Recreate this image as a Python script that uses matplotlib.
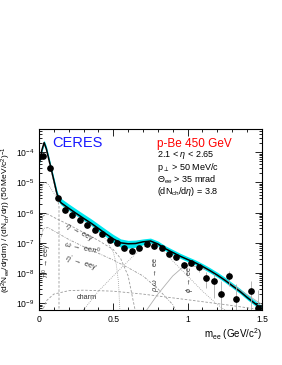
import matplotlib
matplotlib.use('Agg')
import matplotlib.pyplot as plt
import numpy as np
from matplotlib.ticker import FixedLocator, FuncFormatter, LogLocator, NullFormatter

plt.rcParams['font.family'] = ['Liberation Sans', 'DejaVu Sans']
plt.rcParams['mathtext.fontset'] = 'custom'
plt.rcParams['mathtext.rm'] = 'Liberation Sans'
plt.rcParams['mathtext.it'] = 'Liberation Sans:italic'

# Data points (bin centres, 50 MeV bins)
m_data = [0.025, 0.075, 0.125, 0.175, 0.225, 0.275, 0.325, 0.375, 0.425, 0.475,
          0.525, 0.575, 0.625, 0.675, 0.725, 0.775, 0.825, 0.875, 0.925, 0.975,
          1.025, 1.075, 1.125, 1.175, 1.225, 1.275, 1.325, 1.425, 1.475]
y_data = [7.5e-5, 3.0e-5, 3.1e-6, 1.26e-6, 8.2e-7, 5.6e-7, 3.9e-7, 2.75e-7, 2.0e-7, 1.23e-7,
          1.02e-7, 6.6e-8, 5.4e-8, 6.8e-8, 9.1e-8, 7.9e-8, 6.8e-8, 4.3e-8, 3.3e-8, 1.85e-8,
          2.2e-8, 1.6e-8, 7.1e-9, 5.5e-9, 2.0e-9, 7.8e-9, 1.35e-9, 2.6e-9, 6.9e-10]
y_err = [1e-6, 5e-7, 1e-7, 4e-8, 3e-8, 2e-8, 1.5e-8, 1.2e-8, 1e-8, 8e-9,
         8e-9, 6e-9, 6e-9, 6e-9, 7e-9, 7e-9, 7e-9, 6e-9, 6e-9, 5e-9,
         5e-9, 5e-9, 4e-9, 4e-9, 3.5e-9, 4e-9, 3e-9, 3e-9, 2e-9]

# Total cocktail (line) and systematic band
m_tot = [0.005, 0.02, 0.035, 0.05, 0.075, 0.1, 0.12, 0.135, 0.15, 0.2, 0.25, 0.3, 0.35,
         0.4, 0.45, 0.5, 0.55, 0.6, 0.65, 0.7, 0.75, 0.8, 0.85, 0.9, 0.95, 1.0,
         1.05, 1.1, 1.15, 1.2, 1.25, 1.3, 1.35, 1.4, 1.45, 1.5]
y_tot = [5e-5, 1.2e-4, 2.1e-4, 1.3e-4, 4e-5, 1.2e-5, 4.5e-6, 2.6e-6, 2.1e-6, 1.4e-6,
         9.5e-7, 6.5e-7, 4.5e-7, 3e-7, 2e-7, 1.35e-7, 1.0e-7, 9.3e-8, 9.5e-8, 1.08e-7,
         1.15e-7, 9.2e-8, 6.4e-8, 4.8e-8, 3.6e-8, 2.8e-8, 2.2e-8, 1.65e-8, 1.2e-8,
         8.5e-9, 5.8e-9, 3.8e-9, 2.5e-9, 1.55e-9, 1.0e-9, 6.5e-10]
band_lo = [0.85, 0.85, 0.85, 0.85, 0.85, 0.85, 0.85, 0.85, 0.85, 0.85,
           0.85, 0.85, 0.85, 0.82, 0.8, 0.75, 0.72, 0.72, 0.75, 0.8,
           0.85, 0.85, 0.85, 0.85, 0.85, 0.85, 0.85, 0.85, 0.85, 0.85,
           0.85, 0.85, 0.85, 0.85, 0.85, 0.85]
band_hi = [1.2, 1.2, 1.2, 1.25, 1.25, 1.25, 1.3, 1.3, 1.4, 1.4,
           1.4, 1.4, 1.4, 1.4, 1.4, 1.4, 1.35, 1.3, 1.3, 1.25,
           1.25, 1.25, 1.25, 1.25, 1.25, 1.25, 1.25, 1.25, 1.25, 1.25,
           1.25, 1.25, 1.25, 1.25, 1.25, 1.25]

# Cocktail components
m_pi0 = [0.005, 0.02, 0.035, 0.05, 0.075, 0.1, 0.12, 0.13, 0.135, 0.135]
y_pi0 = [4.5e-5, 1.1e-4, 1.9e-4, 1.2e-4, 3.6e-5, 1.05e-5, 3.8e-6, 2.2e-6, 1.6e-6, 5e-10]

m_eta = [0.005, 0.02, 0.04, 0.06, 0.1, 0.15, 0.2, 0.25, 0.3, 0.35, 0.4, 0.45, 0.5, 0.52, 0.535, 0.545]
y_eta = [2.5e-6, 7e-6, 1e-5, 9e-6, 4.5e-6, 2e-6, 1.25e-6, 8.3e-7, 5.6e-7, 3.8e-7,
         2.4e-7, 1.3e-7, 5e-8, 2e-8, 5e-9, 5e-10]

m_omd = [0.005, 0.03, 0.06, 0.1, 0.2, 0.3, 0.4, 0.5, 0.55, 0.6, 0.63, 0.65]
y_omd = [3e-7, 8e-7, 9e-7, 7e-7, 4e-7, 2.2e-7, 1.2e-7, 6e-8, 3e-8, 8e-9, 1.5e-9, 5e-10]

m_etap = [0.005, 0.03, 0.06, 0.1, 0.2, 0.3, 0.4, 0.5, 0.6, 0.7, 0.8, 0.9, 0.95]
y_etap = [1e-7, 3e-7, 3.2e-7, 2.5e-7, 1.3e-7, 7.5e-8, 4.5e-8, 2.7e-8, 1.5e-8, 8e-9, 3e-9, 9e-10, 3e-10]

m_charm = [0.02, 0.05, 0.1, 0.2, 0.3, 0.5, 0.7, 1.0, 1.25, 1.5]
y_charm = [5e-10, 1.2e-9, 2e-9, 2.6e-9, 2.7e-9, 2.5e-9, 2e-9, 1.3e-9, 9e-10, 6e-10]

m_rho = [0.3, 0.4, 0.5, 0.6, 0.68, 0.74, 0.78, 0.82, 0.9, 1.0, 1.1, 1.2, 1.3]
y_rho = [6e-10, 2.5e-9, 8e-9, 2.5e-8, 6e-8, 9.5e-8, 1.0e-7, 7e-8, 2.5e-8, 8e-9, 2.5e-9, 9e-10, 4e-10]

m_phi = [0.7, 0.8, 0.9, 0.97, 1.02, 1.08, 1.15, 1.25, 1.35, 1.5]
y_phi = [4e-10, 2e-9, 8e-9, 1.6e-8, 1.8e-8, 1.5e-8, 1.2e-8, 6e-9, 2.8e-9, 9e-10]

y_ticks = [1e-9, 1e-8, 1e-7, 1e-6, 1e-5, 1e-4]
x_ticks = [0, 0.5, 1.0, 1.5]

fig = plt.figure(figsize=(2.82, 3.65), dpi=100)
ax = fig.add_axes([0.138, 0.151, 0.791, 0.496])

grey = '#9a9a9a'
ax.plot(m_pi0, y_pi0, ls=(0, (3, 2)), color=grey, lw=0.6)
ax.plot(m_eta, y_eta, ls=(0, (1, 1.5)), color=grey, lw=0.6)
ax.plot(m_omd, y_omd, ls=(0, (3, 2)), color=grey, lw=0.6)
ax.plot(m_etap, y_etap, ls=(0, (3, 1.5, 1, 1.5)), color=grey, lw=0.6)
ax.plot(m_charm, y_charm, ls=(0, (3, 2)), color=grey, lw=0.6)
ax.plot(m_rho, y_rho, ls=(0, (1, 1.5)), color=grey, lw=0.6)
ax.plot(m_phi, y_phi, ls='-', color='#b0b0b0', lw=0.6)

tot = np.array(y_tot)
ax.fill_between(m_tot, tot * np.array(band_lo), tot * np.array(band_hi),
                color='#00e8f0', lw=0)
ax.plot(m_tot, y_tot, color='black', lw=1.1)

ax.errorbar(m_data, y_data, yerr=y_err, fmt='o', color='black', ms=3.8,
            ecolor='#aaaaaa', elinewidth=0.6, capsize=0)

ax.set_yscale('log')
ax.set_xlim(0, 1.5)
ax.set_ylim(6e-10, 6e-4)

ax.xaxis.set_major_locator(FixedLocator(x_ticks))
ax.xaxis.set_minor_locator(FixedLocator(np.arange(0, 1.51, 0.1)))
ax.xaxis.set_major_formatter(FuncFormatter(lambda v, p: '%g' % v))
ax.yaxis.set_major_locator(FixedLocator(y_ticks))
ax.yaxis.set_minor_locator(LogLocator(base=10, subs=np.arange(2, 10), numticks=20))
ax.yaxis.set_minor_formatter(NullFormatter())
ax.tick_params(which='both', direction='in', top=True, right=True, labelsize=6.2, width=0.6)
ax.tick_params(which='major', length=5)
ax.tick_params(which='minor', length=2.5)
for s in ax.spines.values():
    s.set_linewidth(0.8)

ax.set_xlabel(r'm$_{\rm ee}$ (GeV/c$^2$)', fontsize=7, loc='right', labelpad=2)
ax.set_ylabel(r'(d$^2$N$_{\rm ee}$/d$\eta$dm) / (dN$_{\rm ch}$/d$\eta$) (50 MeV/c$^2$)$^{-1}$',
              fontsize=6)
ax.yaxis.set_label_coords(-0.115, 0.5)

ax.text(0.06, 0.923, 'CERES', color='#1a1aff', fontsize=10.5, transform=ax.transAxes, va='center')
ax.text(0.53, 0.915, 'p-Be 450 GeV', color='red', fontsize=8.5, transform=ax.transAxes, va='center')
info = [r'2.1 < $\eta$ < 2.65', r'p$_{\perp}$ > 50 MeV/c', r'$\Theta_{\rm ee}$ > 35 mrad',
        r'(dN$_{\rm ch}$/d$\eta$) = 3.8']
for i, t in enumerate(info):
    ax.text(0.53, 0.853 - i * 0.066, t, fontsize=6.5, transform=ax.transAxes, va='center')

lab = dict(fontsize=5.2, color='#333333', ha='center', va='center')
ax.text(0.27, 2.1e-7, r'$\eta$ $\rightarrow$ ee$\gamma$', rotation=-28, **lab)
ax.text(0.29, 6.5e-8, r'$\omega$ $\rightarrow$ ee$\pi^0$', rotation=-12, **lab)
ax.text(0.28, 2.0e-8, r"$\eta'$ $\rightarrow$ ee$\gamma$", rotation=-18, **lab)
ax.text(0.055, 2.6e-8, r'$\pi^0$ $\rightarrow$ ee$\gamma$', rotation=90, **lab)
ax.text(0.32, 1.5e-9, 'charm', **lab)
ax.text(0.79, 9e-9, r'$\rho$,$\omega$ $\rightarrow$ ee', rotation=90, **lab)
ax.text(1.01, 6.3e-9, r'$\phi$ $\rightarrow$ ee', rotation=90, **lab)

fig.savefig('out.png', dpi=100)
